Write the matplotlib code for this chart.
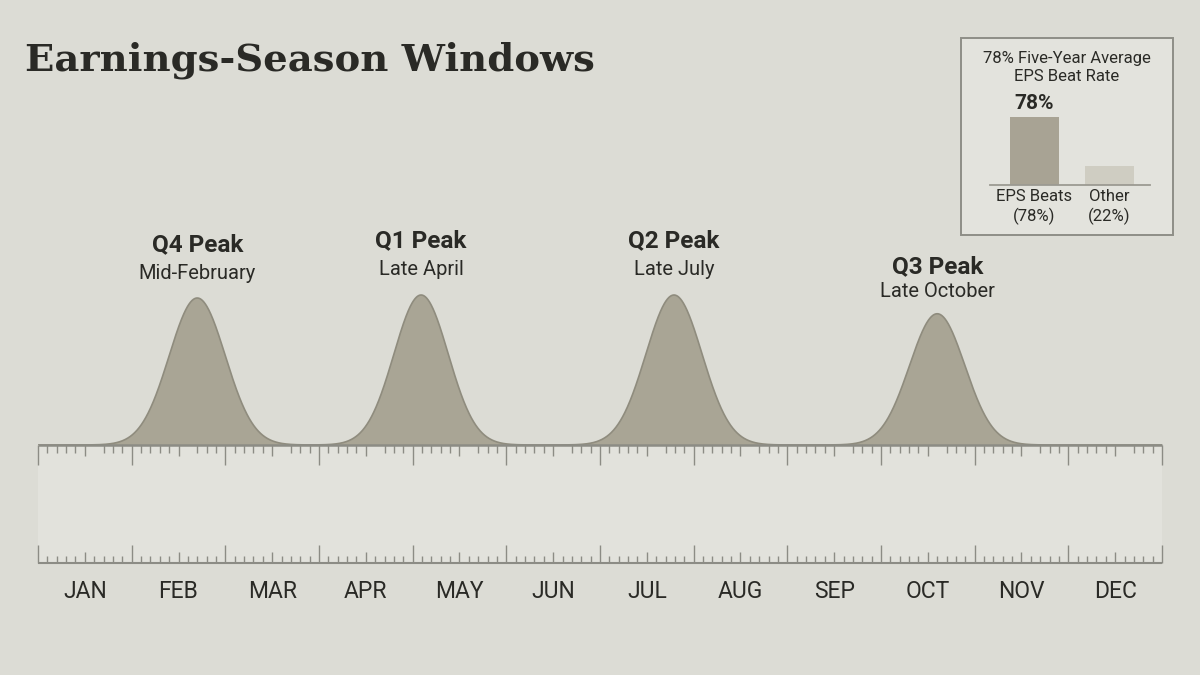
import numpy as np
import matplotlib
matplotlib.use("Agg")
import matplotlib.pyplot as plt
from matplotlib.patches import Rectangle

# ---------------- data ----------------
months = ["JAN", "FEB", "MAR", "APR", "MAY", "JUN", "JUL", "AUG", "SEP", "OCT", "NOV", "DEC"]
peak_names = ["Q4 Peak", "Q1 Peak", "Q2 Peak", "Q3 Peak"]
peak_subs = ["Mid-February", "Late April", "Late July", "Late October"]
peak_centers = [1.70, 4.09, 6.79, 9.60]      # in months from Jan 1
peak_heights = [98, 100, 100, 87.5]          # relative reporting intensity
peak_widths = [0.30, 0.29, 0.30, 0.295]      # spread (months)

inset_title = "78% Five-Year Average\nEPS Beat Rate"
bar_labels = ["EPS Beats\n(78%)", "Other\n(22%)"]
bar_values = [78, 22]

title = "Earnings-Season Windows"

# ---------------- style ----------------
BG = "#dcdcd5"
BAND = "#e2e2dc"
FILL = "#a9a595"
EDGE = "#8f8c7e"
RULE = "#8c8c85"
TXT = "#2a2a26"
W, H = 1200, 675

SANS = ["Roboto", "Liberation Sans", "DejaVu Sans"]
NARROW = ["Roboto", "DejaVu Sans"]

def fx(px):
    return px / W

def fy(py):
    return (H - py) / H

fig = plt.figure(figsize=(12, 6.75), dpi=100, facecolor=BG)

# title
fig.text(fx(25), fy(60), title, family=["DejaVu Serif"], fontweight="bold",
         fontsize=27.7, color=TXT, ha="left", va="center")

# ---------------- main curve axes ----------------
x0, x1 = 38, 1162
base_px, top_px = 445, 150
ax = fig.add_axes([fx(x0), fy(base_px), (x1 - x0) / W, (base_px - top_px) / H])
ax.set_facecolor("none")
ax.set_xlim(0, 12)
ax.set_ylim(0, (base_px - top_px) / 1.5)
ax.axis("off")

xs = np.linspace(0, 12, 3000)
ys = np.zeros_like(xs)
for c, h, s in zip(peak_centers, peak_heights, peak_widths):
    ys += h * np.exp(-0.5 * ((xs - c) / s) ** 2)
ax.fill_between(xs, 0, ys, facecolor=FILL, edgecolor="none", zorder=2)
ax.plot(xs, ys, color=EDGE, lw=1.2, zorder=3)

for name, sub, c, h in zip(peak_names, peak_subs, peak_centers, peak_heights):
    ax.text(c, h * 1.362, name, ha="center", va="center", family=SANS,
            fontweight="bold", fontsize=17.5, color=TXT, clip_on=False)
    ax.text(c, h * 1.17, sub, ha="center", va="center", family=SANS,
            fontsize=14.5, color=TXT, clip_on=False)

# ---------------- ruler axes ----------------
r_top, r_bot = 445, 563
axr = fig.add_axes([fx(x0), fy(r_bot), (x1 - x0) / W, (r_bot - r_top) / H])
axr.set_facecolor("none")
axr.set_xlim(0, 12)
hgt = r_bot - r_top
axr.set_ylim(0, hgt)
axr.axis("off")
axr.add_patch(Rectangle((0, 0), 12, hgt, facecolor=BAND, edgecolor="none", zorder=0))
axr.plot([0, 12], [hgt, hgt], color=RULE, lw=1.8, zorder=3, solid_capstyle="butt", clip_on=False)
axr.plot([0, 12], [0, 0], color=RULE, lw=1.5, zorder=3, solid_capstyle="butt", clip_on=False)

top_x, top_y0, top_y1 = [], [], []
bot_x, bot_y0, bot_y1 = [], [], []
for m in range(12):
    for k in range(10):
        xv = m + k / 10
        if k == 0:
            lt, lb = 20, 18
        elif k == 5:
            lt, lb = 11, 11
        else:
            lt, lb = 8, 7
        if k != 6:
            top_x.append(xv); top_y0.append(hgt); top_y1.append(hgt - lt)
        bot_x.append(xv); bot_y0.append(0); bot_y1.append(lb)
top_x.append(12); top_y0.append(hgt); top_y1.append(hgt - 20)
bot_x.append(12); bot_y0.append(0); bot_y1.append(18)
axr.vlines(top_x, top_y0, top_y1, color=RULE, lw=1.0, zorder=2, clip_on=False)
axr.vlines(bot_x, bot_y0, bot_y1, color=RULE, lw=1.0, zorder=2, clip_on=False)

for i, mname in enumerate(months):
    axr.text(i + 0.5, -(592 - r_bot), mname, ha="center", va="center",
             family=NARROW, fontsize=16.5, color=TXT, clip_on=False)

# ---------------- inset ----------------
bx0, bx1, by0, by1 = 961, 1173, 38, 235
fig.patches.append(Rectangle((fx(bx0), fy(by1)), (bx1 - bx0) / W, (by1 - by0) / H,
                             transform=fig.transFigure, facecolor="#e3e3dd",
                             edgecolor="#8e8e87", lw=1.4, zorder=0.5))
fig.text(fx(1067), fy(67.5), inset_title, ha="center", va="center", family=SANS,
         fontsize=12, color=TXT, linespacing=1.3, zorder=5)

ib_left, ib_right, ib_base, ib_top = 990, 1150, 185, 100
axb = fig.add_axes([fx(ib_left), fy(ib_base), (ib_right - ib_left) / W, (ib_base - ib_top) / H])
axb.set_zorder(3)
axb.set_facecolor("none")
unit = 68 / 78  # px per percentage point
axb.set_ylim(0, (ib_base - ib_top) / unit)
axb.set_xlim(-44.5 / 75, 1 + 40.5 / 75)
xpos = np.arange(len(bar_values))
axb.bar(xpos, bar_values, width=49 / 75, color=["#a8a394", "#cfcdc2"], zorder=2)
for sp in ["top", "left", "right"]:
    axb.spines[sp].set_visible(False)
axb.spines["bottom"].set_color("#9b9a92")
axb.spines["bottom"].set_linewidth(1.3)
axb.set_xticks([])
axb.set_yticks([])
axb.annotate(f"{bar_values[0]}%", (xpos[0], bar_values[0]), xytext=(0, 9.5),
             textcoords="offset points", ha="center", va="center", family=SANS,
             fontweight="bold", fontsize=15, color=TXT)
for i, lab in enumerate(bar_labels):
    axb.text(xpos[i], -(207 - ib_base) / unit, lab, ha="center", va="center",
             family=SANS, fontsize=12, color=TXT, linespacing=1.25, clip_on=False)

fig.savefig("out.png", dpi=100, facecolor=BG)
